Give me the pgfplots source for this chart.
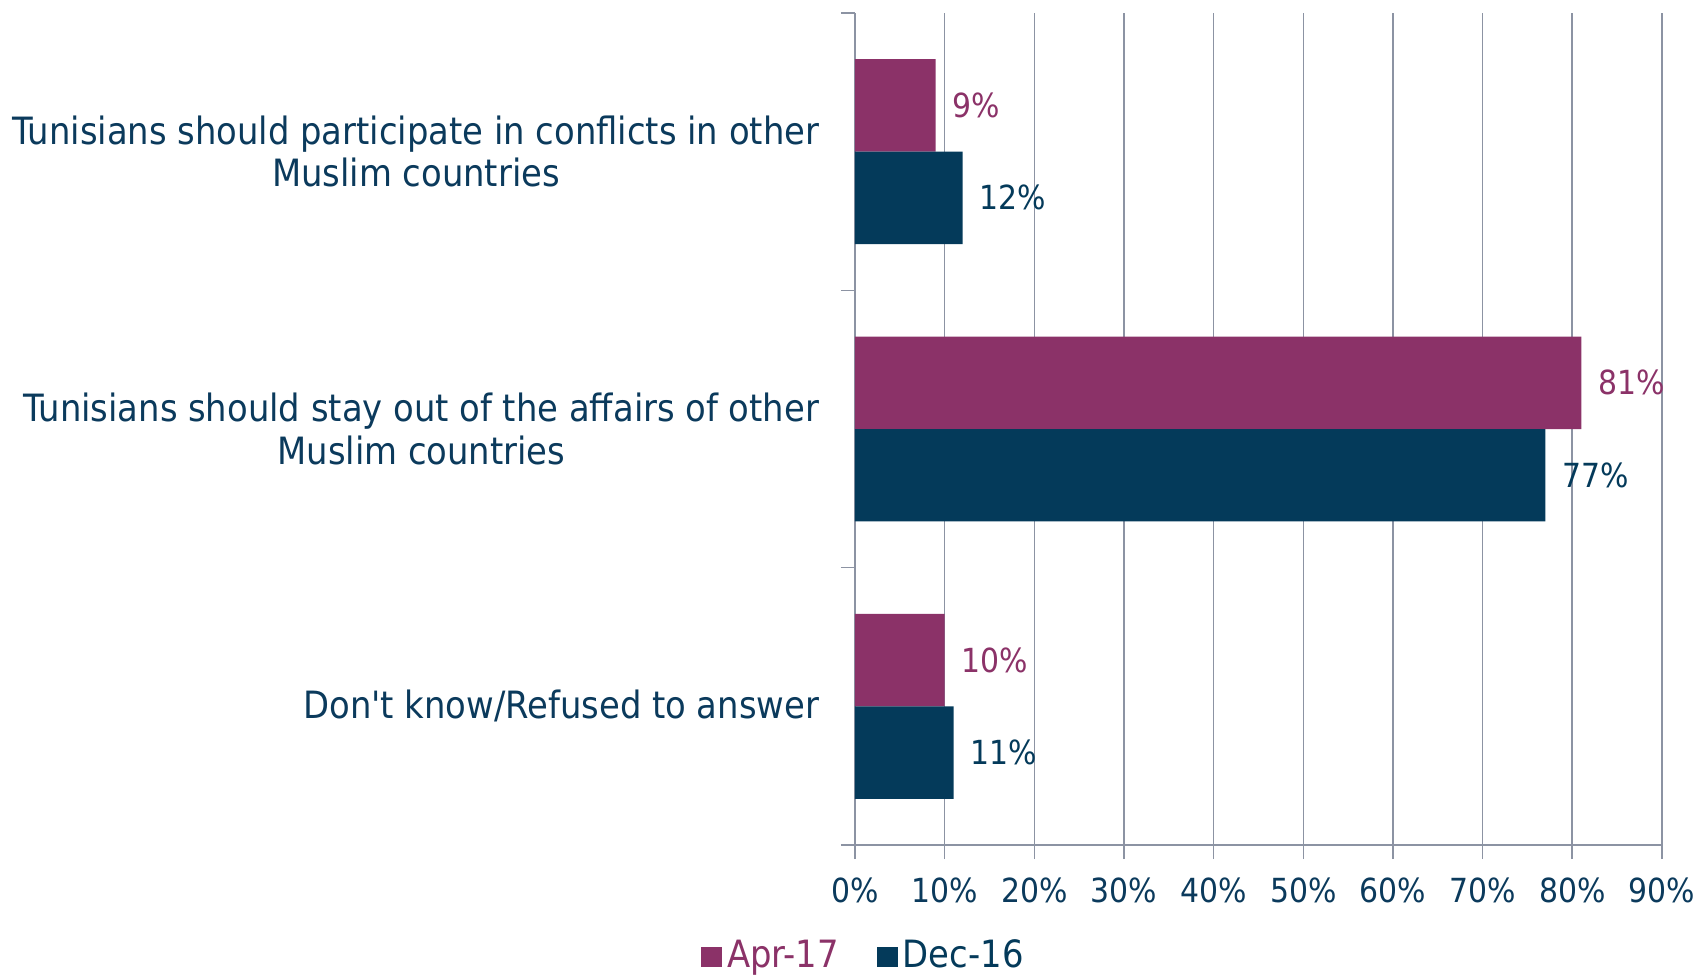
\documentclass[border=0pt]{standalone}
\usepackage{pgfplots}
\pgfplotsset{compat=1.18}
\usepackage{fontspec}
\setmainfont{DejaVu Sans Condensed}[Ligatures=TeXOff]
\definecolor{aprcol}{HTML}{8B3268}
\definecolor{deccol}{HTML}{043A5A}
\definecolor{txtcol}{HTML}{0B3A5C}
\definecolor{gridcol}{HTML}{8C93A3}
\newcommand{\numfont}{\fontsize{8.3}{10}\selectfont}
\newcommand{\catfont}{\fontsize{9.4}{10.6}\selectfont}

\begin{document}
\begin{tikzpicture}
\begin{axis}[
  name=ax,
  scale only axis,
  width=201.75pt, height=208pt,
  xbar, bar width=0.3333,
  xmin=0, xmax=90,
  ymin=-0.5, ymax=2.5,
  axis x line*=bottom, axis y line*=left,
  axis line style={gridcol, line width=0.4pt},
  xtick={0,10,...,90},
  xticklabels={0\%,10\%,20\%,30\%,40\%,50\%,60\%,70\%,80\%,90\%},
  xmajorgrids, grid style={gridcol, line width=0.4pt},
  tick style={gridcol, line width=0.4pt},
  major tick length=3.5pt, tick align=outside,
  ytick={-0.5,0.5,1.5,2.5},
  yticklabels={,,,},
  extra y ticks={0,1,2},
  extra y tick labels={Don't know/Refused to answer,
    Tunisians should stay out of the affairs of other\\Muslim countries,
    Tunisians should participate in conflicts in other\\Muslim countries},
  extra y tick style={major tick length=0pt},
  yticklabel style={font=\catfont, text=txtcol, align=center, inner sep=0pt, xshift=-8.75pt},
  xticklabel style={font=\numfont, text=txtcol, inner sep=0pt, yshift=-4.6pt},
  nodes near coords={\pgfmathprintnumber[assume math mode=true]{\pgfplotspointmeta}\%},
  point meta=x,
  every node near coord/.append style={font=\numfont, inner sep=0pt, xshift=4pt},
  legend style={at={(axis description cs:0.0124,-0.1346)}, anchor=center,
    draw=none, fill=none, legend columns=2, font=\catfont,
    /tikz/every even column/.append style={column sep=8.4pt},
    nodes={inner sep=1.25pt}},
  legend image code/.code={\fill[#1] (0pt,-2.6pt) rectangle (5.2pt,2.6pt);},
  clip=false,
]
\addplot[fill=aprcol, draw=none, bar shift=0.16667,
  every node near coord/.append style={text=aprcol}]
  coordinates {(9,2) (81,1) (10,0)};
\addplot[fill=deccol, draw=none, bar shift=-0.16667,
  every node near coord/.append style={text=deccol}]
  coordinates {(12,2) (77,1) (11,0)};
\legend{\textcolor{aprcol}{Apr-17}, \textcolor{deccol}{Dec-16}}
\end{axis}
\pgfresetboundingbox
\path[use as bounding box] ([shift={(-213.75pt,-32.75pt)}]ax.south west)
  rectangle ([shift={(210.75pt,211.25pt)}]ax.south west);
\end{tikzpicture}
\end{document}
